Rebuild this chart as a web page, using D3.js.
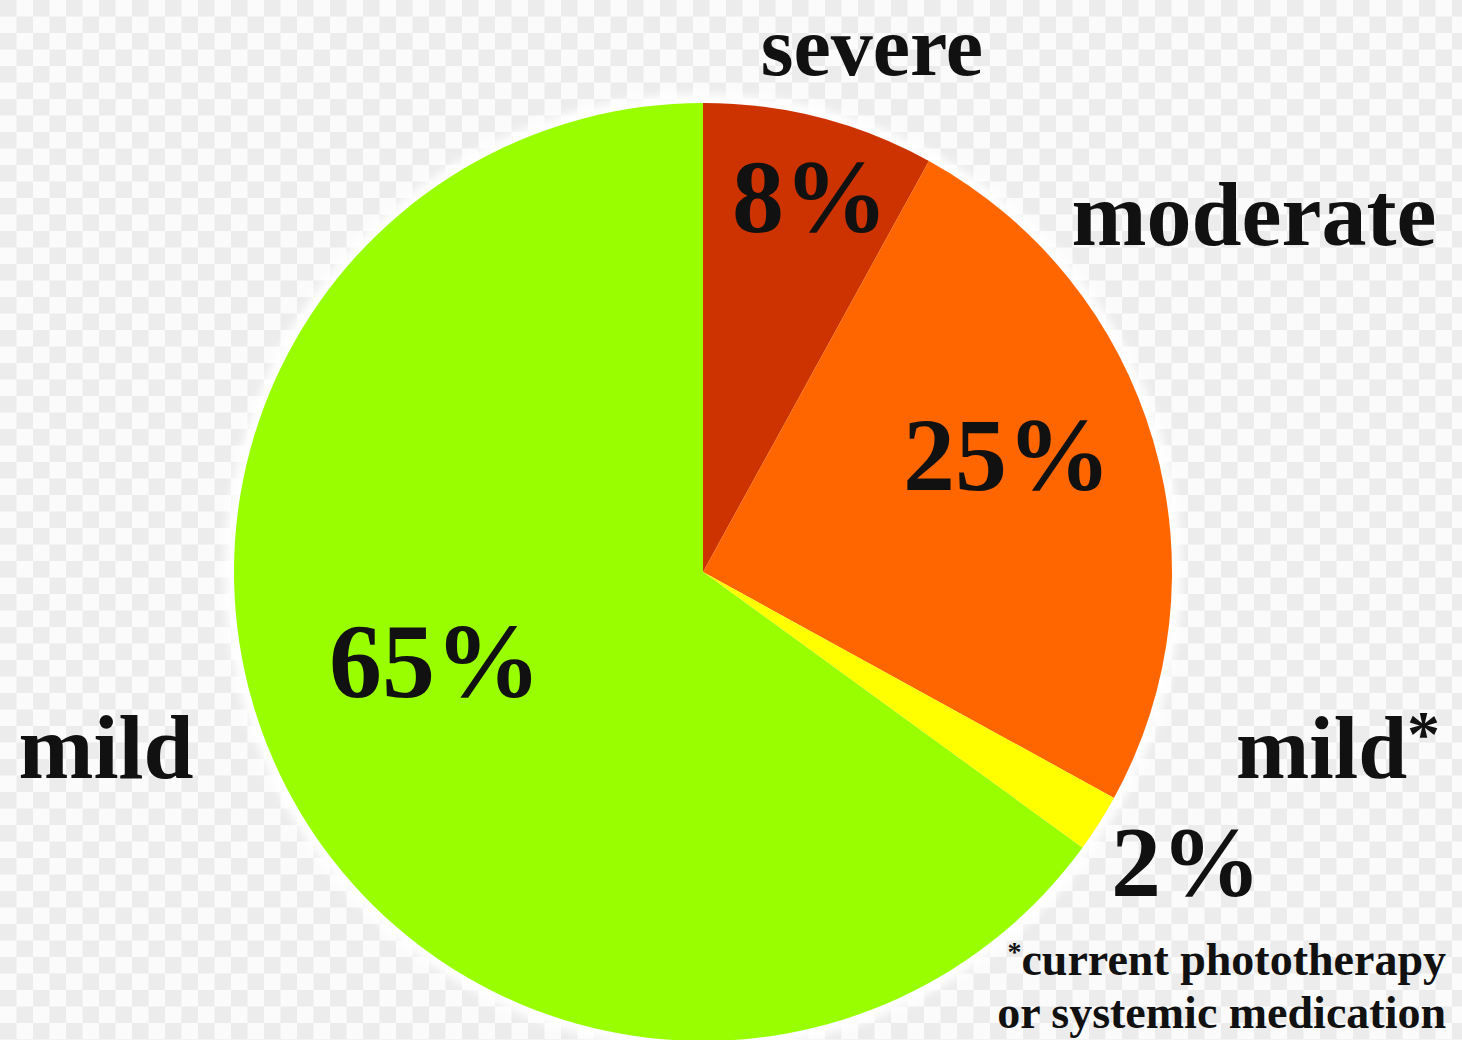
<!DOCTYPE html>
<html>
<head>
<meta charset="utf-8">
<script src="https://cdn.jsdelivr.net/npm/d3@7"></script>
<style>
  html, body { margin: 0; padding: 0; background: #fff; }
  svg text { font-family: "Liberation Serif", "DejaVu Serif", serif; font-weight: bold; fill: #111; }
</style>
</head>
<body>
<div id="chart"></div>
<script>
// 数据
const categories = ["severe", "moderate", "mild", "mild"];
const nameMarks = ["", "", "*", ""];
const shares = [8, 25, 2, 65];
const sliceColors = ["#cc3300", "#ff6600", "#ffff00", "#99ff00"];
const footnote = ["current phototherapy", "or systemic medication"];
const footnoteMarks = ["*", ""];

const width = 1462, height = 1040;
const cx = 703, cy = 572, radius = 469;

const svg = d3.select("#chart")
    .append("svg")
    .attr("width", width)
    .attr("height", height);

// 背景棋盘格
const defs = svg.append("defs");
const pat = defs.append("pattern")
    .attr("id", "checker")
    .attr("width", 33)
    .attr("height", 33)
    .attr("patternUnits", "userSpaceOnUse");
pat.append("rect").attr("width", 33).attr("height", 33).attr("fill", "#fbfbfb");
pat.append("rect").attr("width", 16.5).attr("height", 16.5).attr("fill", "#ececec");
pat.append("rect").attr("x", 16.5).attr("y", 16.5).attr("width", 16.5).attr("height", 16.5).attr("fill", "#ececec");

defs.append("filter")
    .attr("id", "halo")
    .attr("x", "-10%").attr("y", "-10%").attr("width", "120%").attr("height", "120%")
    .append("feGaussianBlur")
    .attr("stdDeviation", 5);

svg.append("rect")
    .attr("width", width)
    .attr("height", height)
    .attr("fill", "url(#checker)");

// 饼图
const pie = d3.pie().sort(null).value(d => d);
const arc = d3.arc().innerRadius(0).outerRadius(radius);

const g = svg.append("g").attr("transform", `translate(${cx},${cy})`);

// 白色光晕
g.append("circle")
    .attr("r", radius + 2)
    .attr("fill", "none")
    .attr("stroke", "#fff")
    .attr("stroke-width", 14)
    .attr("filter", "url(#halo)");

g.selectAll("path.slice")
    .data(pie(shares))
    .join("path")
    .attr("class", "slice")
    .attr("d", arc)
    .attr("fill", (d, i) => sliceColors[i]);

// 标签位置 (布局)
const nameLayout = [
    {x: 872, y: 75, size: 84},
    {x: 1254, y: 245, size: 90},
    {x: 1338, y: 778, size: 88},
    {x: 106, y: 778, size: 90}
];
const pctLayout = [
    {x: 810, y: 232, size: 104},
    {x: 1007, y: 490, size: 104},
    {x: 1186, y: 895, size: 100},
    {x: 435, y: 697, size: 106}
];

categories.forEach((c, i) => {
    const t = svg.append("text")
        .attr("x", nameLayout[i].x)
        .attr("y", nameLayout[i].y)
        .attr("text-anchor", "middle")
        .style("font-size", nameLayout[i].size + "px");
    t.append("tspan").text(c);
    if (nameMarks[i]) {
        t.append("tspan")
            .attr("dy", -22)
            .style("font-size", "66px")
            .text(nameMarks[i]);
    }

    svg.append("text")
        .attr("x", pctLayout[i].x)
        .attr("y", pctLayout[i].y)
        .attr("text-anchor", "middle")
        .style("font-size", pctLayout[i].size + "px")
        .text(shares[i] + "%");
});

// 脚注
footnote.forEach((t, i) => {
    const tx = svg.append("text")
        .attr("x", 1446)
        .attr("y", 975 + i * 53)
        .attr("text-anchor", "end")
        .style("font-size", "46px");
    if (footnoteMarks[i]) {
        tx.append("tspan")
            .attr("dy", -14)
            .style("font-size", "28px")
            .text(footnoteMarks[i]);
        tx.append("tspan").attr("dy", 14).text(t);
    } else {
        tx.append("tspan").text(t);
    }
});
</script>
</body>
</html>
